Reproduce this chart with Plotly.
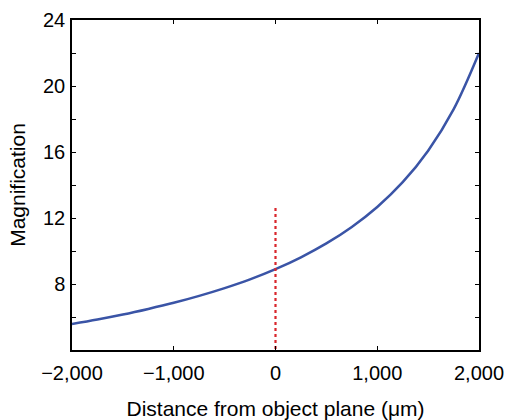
import plotly.graph_objects as go

distance_um = [-2000, -1750, -1500, -1250, -1000, -750, -500, -250, 0,
               250, 500, 750, 1000, 1250, 1500, 1750, 2000]
magnification = [5.58, 5.85, 6.15, 6.49, 6.86, 7.28, 7.75, 8.28, 8.90,
                 9.62, 10.46, 11.46, 12.67, 14.17, 16.08, 18.58, 22.00]

marker_x = [0, 0]
marker_y = [3.7, 12.6]

x_tickvals = [-2000, -1000, 0, 1000, 2000]
x_ticktext = ["\u22122,000", "\u22121,000", "0", "1,000", "2,000"]
y_tickvals = [4, 6, 8, 10, 12, 14, 16, 18, 20, 22, 24]
y_ticktext = ["", "", "8", "", "12", "", "16", "", "20", "", "24"]

fig = go.Figure()
fig.add_trace(go.Scatter(x=distance_um, y=magnification, mode="lines",
                         line=dict(color="#3a54a6", width=2.5, shape="spline"),
                         showlegend=False))
fig.add_trace(go.Scatter(x=marker_x, y=marker_y, mode="lines",
                         line=dict(color="#d9262c", width=2.2, dash="dot"),
                         showlegend=False, cliponaxis=False))

fig.update_layout(
    width=509, height=420,
    margin=dict(l=72, r=30, t=20, b=70),
    plot_bgcolor="white", paper_bgcolor="white",
    font=dict(family="Liberation Sans, Arial, sans-serif", size=20, color="black"),
)
fig.update_xaxes(range=[-2000, 2000], tickvals=x_tickvals, ticktext=x_ticktext,
                 ticks="inside", ticklen=4, tickwidth=1.2, tickcolor="black",
                 showline=True, linecolor="black", linewidth=1.5, mirror="allticks",
                 showgrid=False, zeroline=False, automargin=False,
                 ticklabelstandoff=4, ticklabeloverflow="allow",
                 title=dict(text="Distance from object plane (\u03bcm)", standoff=24,
                            font=dict(size=21)),
                 tickfont=dict(size=20))
fig.update_yaxes(range=[4, 24], tickvals=y_tickvals, ticktext=y_ticktext,
                 ticks="inside", ticklen=4, tickwidth=1.2, tickcolor="black",
                 showline=True, linecolor="black", linewidth=1.5, mirror="allticks",
                 showgrid=False, zeroline=False, automargin=False,
                 ticklabelstandoff=1,
                 title=dict(text="Magnification", standoff=12, font=dict(size=21)),
                 tickfont=dict(size=20))

fig.write_html("out.html",
               config={"displayModeBar": False},
               post_script="document.body.style.margin='0';document.body.style.overflow='hidden';")
